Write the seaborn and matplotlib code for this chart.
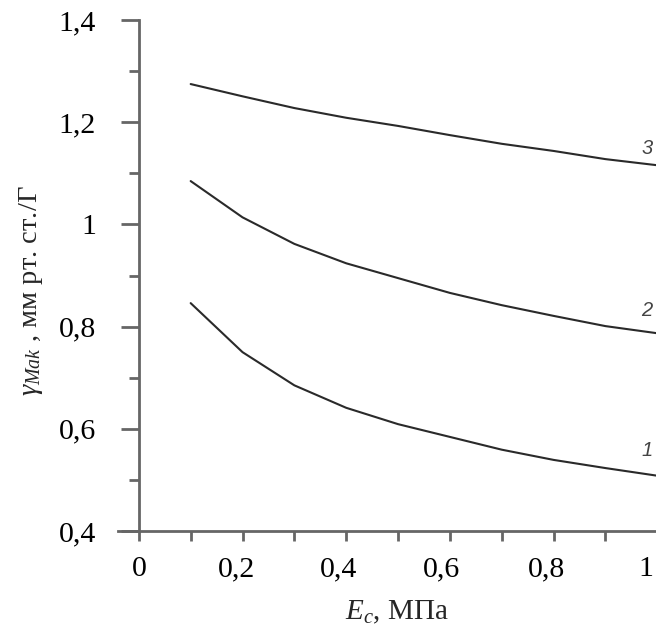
import matplotlib
matplotlib.use("Agg")
import matplotlib.pyplot as plt
import matplotlib.transforms as mtransforms
import seaborn as sns
import pandas as pd
from matplotlib.ticker import MultipleLocator, FixedLocator

sns.set_theme(style="white")
plt.rcParams['font.family'] = ['Liberation Serif', 'DejaVu Serif']
plt.rcParams['mathtext.fontset'] = 'custom'
plt.rcParams['mathtext.rm'] = 'Liberation Serif'
plt.rcParams['mathtext.it'] = 'Liberation Serif:italic'

E_c = [0.1, 0.2, 0.3, 0.4, 0.5, 0.6, 0.7, 0.8, 0.9, 1.0]
curve_1 = [0.846, 0.750, 0.685, 0.641, 0.609, 0.584, 0.559, 0.539, 0.523, 0.508]
curve_2 = [1.085, 1.014, 0.962, 0.924, 0.895, 0.866, 0.842, 0.821, 0.801, 0.787]
curve_3 = [1.275, 1.251, 1.228, 1.209, 1.193, 1.175, 1.158, 1.144, 1.128, 1.116]
curve_names = ["1", "2", "3"]

x_ticks = [0, 0.2, 0.4, 0.6, 0.8, 1.0]
x_ticklabels = ["0", "0,2", "0,4", "0,6", "0,8", "1"]
y_ticks = [0.4, 0.6, 0.8, 1.0, 1.2, 1.4]
y_ticklabels = ["0,4", "0,6", "0,8", "1", "1,2", "1,4"]

df = pd.DataFrame({
    "E": E_c * 3,
    "gamma": curve_1 + curve_2 + curve_3,
    "curve": [n for n in curve_names for _ in E_c],
})

fig = plt.figure(figsize=(6.56, 6.32), dpi=100)
ax = fig.add_axes([0.180, 0.160, 0.822, 0.808])

sns.lineplot(data=df, x="E", y="gamma", hue="curve",
             palette={n: "#2a2a2a" for n in curve_names},
             linewidth=1.5, legend=False, ax=ax)

ax.set_xlim(-0.04, 1.0)
ax.set_ylim(0.4, 1.4)
ax.spines['left'].set_position(('data', 0))
ax.spines['top'].set_visible(False)
ax.spines['right'].set_visible(False)
for s in ('left', 'bottom'):
    ax.spines[s].set_color('#666666')
    ax.spines[s].set_linewidth(2)

ax.xaxis.set_major_locator(FixedLocator(x_ticks))
ax.set_xticklabels(x_ticklabels)
ax.xaxis.set_minor_locator(MultipleLocator(0.1))
ax.yaxis.set_major_locator(FixedLocator(y_ticks))
ax.set_yticklabels(y_ticklabels)
ax.yaxis.set_minor_locator(MultipleLocator(0.1))

ax.tick_params(axis='both', which='both', direction='out', color='#666666', width=2)
ax.tick_params(axis='x', which='both', bottom=True, length=7)
ax.tick_params(axis='y', which='major', left=True, length=13)
ax.tick_params(axis='y', which='minor', left=True, length=7)
ax.tick_params(axis='both', which='major', labelsize=21.5, labelcolor='black')
ax.tick_params(axis='x', which='major', pad=11)
ax.tick_params(axis='y', which='major', pad=18)

# small horizontal shifts of the x tick labels, as in the reference
x_shift_px = [0, -6, -8, -8, -7, -11]
for lab, dx in zip(ax.get_xticklabels(), x_shift_px):
    lab.set_transform(lab.get_transform() +
                      mtransforms.ScaledTranslation(dx / 100, 0, fig.dpi_scale_trans))

ax.set_xlabel(r"$E_c$, МПа", fontsize=21)
ax.xaxis.set_label_coords(0.518, -0.16)
ax.xaxis.label.set_va('center')
ax.set_ylabel(r"$\gamma_{Mak}$ , мм рт. ст./Г", fontsize=20.5)
ax.yaxis.set_label_coords(-0.161, 0.47)
ax.yaxis.label.set_va('center')

label_pos = {"3": 1.148, "2": 0.831, "1": 0.557}
for n in curve_names:
    ax.text(0.98, label_pos[n], n, fontsize=14.5, style='italic',
            family=['Liberation Sans', 'DejaVu Sans'], color='#444444',
            ha='center', va='center')

ax.grid(False)
fig.savefig("out.png", dpi=100)
